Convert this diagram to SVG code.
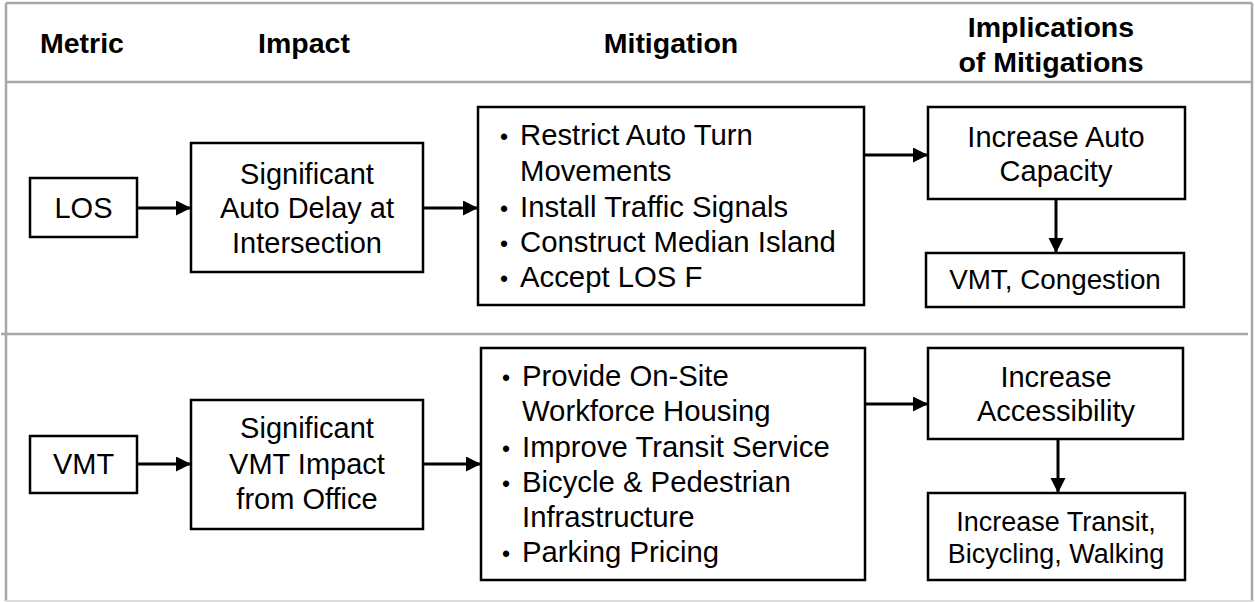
<svg xmlns="http://www.w3.org/2000/svg" width="1255" height="602" viewBox="0 0 1255 602">
<style>
  .frame{stroke:#a8a8a8;stroke-width:2.5;fill:none}
  .box{fill:#fff;stroke:#000;stroke-width:2.5}
  .hdr{font-family:"Liberation Sans",Arial,sans-serif;font-weight:bold;font-size:28.5px;fill:#000;text-anchor:middle}
  .t{font-family:"Liberation Sans",Arial,sans-serif;font-size:29px;fill:#000;text-anchor:middle}
  .s{font-size:27px}
  .b{font-family:"Liberation Sans",Arial,sans-serif;font-size:29.3px;fill:#000}
  .dot{font-family:"Liberation Sans",Arial,sans-serif;font-size:23px;fill:#000}
  .conn{stroke:#000;stroke-width:3;fill:none;marker-end:url(#ah)}
</style>
<defs>
  <marker id="ah" markerUnits="userSpaceOnUse" markerWidth="16" markerHeight="16" refX="15" refY="7.5" orient="auto">
    <path d="M0,0 L15,7.5 L0,15 Z" fill="#000"/>
  </marker>
</defs>
<rect width="1255" height="602" fill="#fff"/>
<g id="frame">
  <line class="frame" x1="6" y1="3" x2="1252" y2="3"/>
  <line class="frame" x1="6" y1="3" x2="6" y2="601"/>
  <line class="frame" x1="1252" y1="3" x2="1252" y2="601"/>
  <line class="frame" x1="6" y1="82" x2="1252" y2="82"/>
  <line class="frame" x1="1" y1="334" x2="1248" y2="334"/>
  <line x1="6" y1="601" x2="1252" y2="601" stroke="#dcdcdc" stroke-width="2"/>
</g>
<g id="headers">
  <text class="hdr" x="82" y="53">Metric</text>
  <text class="hdr" x="304" y="53">Impact</text>
  <text class="hdr" x="671" y="53">Mitigation</text>
  <text class="hdr" x="1051" y="37">Implications</text>
  <text class="hdr" x="1051" y="72">of Mitigations</text>
</g>
<g id="connectors">
  <line class="conn" x1="137" y1="208" x2="191" y2="208"/>
  <line class="conn" x1="423" y1="208" x2="478" y2="208"/>
  <line class="conn" x1="864" y1="155" x2="928" y2="155"/>
  <line class="conn" x1="1056" y1="199" x2="1056" y2="253"/>
  <line class="conn" x1="137" y1="464" x2="191" y2="464"/>
  <line class="conn" x1="423" y1="464" x2="481" y2="464"/>
  <line class="conn" x1="865" y1="404" x2="928" y2="404"/>
  <line class="conn" x1="1058" y1="439" x2="1058" y2="493"/>
</g>
<g id="los">
  <rect class="box" x="30" y="178" width="107" height="59"/>
  <text class="t" x="83.5" y="218">LOS</text>
</g>
<g id="impact-los">
  <rect class="box" x="191" y="143" width="232" height="129"/>
  <text class="t" x="307" y="184">Significant</text>
  <text class="t" x="307" y="218">Auto Delay at</text>
  <text class="t" x="307" y="253">Intersection</text>
</g>
<g id="mitigation-los">
  <rect class="box" x="478" y="107" width="386" height="198"/>
  <text class="dot" x="500" y="145">•</text>
  <text class="b" x="520" y="145">Restrict Auto Turn</text>
  <text class="b" x="520" y="181">Movements</text>
  <text class="dot" x="500" y="217">•</text>
  <text class="b" x="520" y="217">Install Traffic Signals</text>
  <text class="dot" x="500" y="252">•</text>
  <text class="b" x="520" y="252">Construct Median Island</text>
  <text class="dot" x="500" y="287">•</text>
  <text class="b" x="520" y="287">Accept LOS F</text>
</g>
<g id="capacity">
  <rect class="box" x="928" y="107" width="257" height="92"/>
  <text class="t" x="1056" y="147">Increase Auto</text>
  <text class="t" x="1056" y="181">Capacity</text>
</g>
<g id="congestion">
  <rect class="box" x="926" y="253" width="258" height="54"/>
  <text class="t" x="1055" y="289" style="font-size:27.8px">VMT, Congestion</text>
</g>
<g id="vmt">
  <rect class="box" x="30" y="436" width="107" height="57"/>
  <text class="t" x="83.5" y="474">VMT</text>
</g>
<g id="impact-vmt">
  <rect class="box" x="191" y="400" width="232" height="129"/>
  <text class="t" x="307" y="438">Significant</text>
  <text class="t" x="307" y="474">VMT Impact</text>
  <text class="t" x="307" y="509">from Office</text>
</g>
<g id="mitigation-vmt">
  <rect class="box" x="481" y="348" width="384" height="232"/>
  <text class="dot" x="502" y="386">•</text>
  <text class="b" x="522" y="386">Provide On-Site</text>
  <text class="b" x="522" y="421">Workforce Housing</text>
  <text class="dot" x="502" y="457">•</text>
  <text class="b" x="522" y="457">Improve Transit Service</text>
  <text class="dot" x="502" y="492">•</text>
  <text class="b" x="522" y="492">Bicycle &amp; Pedestrian</text>
  <text class="b" x="522" y="527">Infrastructure</text>
  <text class="dot" x="502" y="562">•</text>
  <text class="b" x="522" y="562">Parking Pricing</text>
</g>
<g id="accessibility">
  <rect class="box" x="928" y="348" width="255" height="91"/>
  <text class="t" x="1056" y="387">Increase</text>
  <text class="t" x="1056" y="421">Accessibility</text>
</g>
<g id="active-modes">
  <rect class="box" x="928" y="493" width="257" height="87"/>
  <text class="t s" x="1056" y="531">Increase Transit,</text>
  <text class="t s" x="1056" y="563">Bicycling, Walking</text>
</g>
</svg>
